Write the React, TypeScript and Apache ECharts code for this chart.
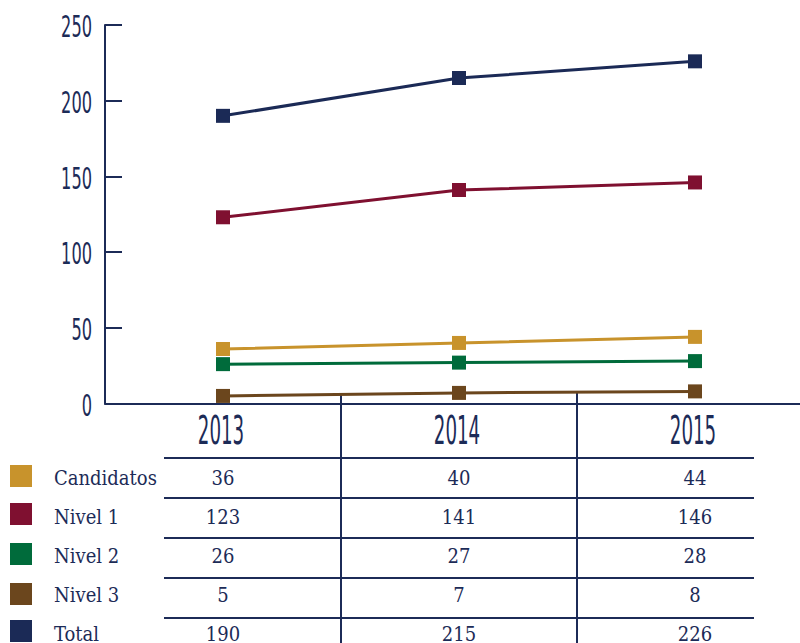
import React, { useEffect, useRef } from "react";
import * as echarts from "echarts";

const years = ["2013", "2014", "2015"];
const yTicks = [0, 50, 100, 150, 200, 250];
const seriesNames = ["Candidatos", "Nivel 1", "Nivel 2", "Nivel 3", "Total"];
const candidatos = [36, 40, 44];
const nivel1 = [123, 141, 146];
const nivel2 = [26, 27, 28];
const nivel3 = [5, 7, 8];
const total = [190, 215, 226];
const seriesColors = ["#c8932c", "#7f1030", "#006b3b", "#6b461d", "#1b2a56"];

const NAVY = "#1c2b57";
const NARROW = '"Liberation Sans Narrow", "DejaVu Sans Condensed", sans-serif';
const SERIF = '"DejaVu Serif Condensed", "DejaVu Serif", serif';

export default function App() {
  const ref = useRef<HTMLDivElement>(null);
  useEffect(() => {
    if (!ref.current) return;
    const chart = echarts.init(ref.current, null, { renderer: "svg" });
    const allData = [candidatos, nivel1, nivel2, nivel3, total];
    chart.setOption({
      animation: false,
      backgroundColor: "#ffffff",
      grid: { left: 105, top: 25, right: -13, height: 378.5, containLabel: false, outerBoundsMode: "none" },
      xAxis: {
        type: "category",
        data: years,
        boundaryGap: true,
        axisLine: { show: true, lineStyle: { color: NAVY, width: 2 } },
        axisTick: { show: false },
        axisLabel: { show: false },
        splitLine: { show: false },
      },
      yAxis: {
        type: "value",
        min: 0,
        max: 250,
        interval: 50,
        axisLine: { show: true, lineStyle: { color: NAVY, width: 2 } },
        axisTick: { show: true, inside: true, length: 17, lineStyle: { color: NAVY, width: 2 } },
        axisLabel: { show: false },
        splitLine: { show: false },
      },
      series: seriesNames.map((name, i) => ({
        name,
        type: "line",
        data: allData[i],
        symbol: "rect",
        symbolSize: 14,
        showSymbol: true,
        color: seriesColors[i],
        lineStyle: { width: 3, color: seriesColors[i] },
        itemStyle: { color: seriesColors[i] },
        z: 2 + i,
      })),
    });

    const xs = years.map((_, j) => chart.convertToPixel({ xAxisIndex: 0 }, j) as number);
    const graphics: any[] = [];
    yTicks.forEach((v) => {
      const y = chart.convertToPixel({ yAxisIndex: 0 }, v) as number;
      graphics.push({
        type: "text",
        x: 92,
        y: y + 2,
        scaleX: 0.6,
        style: { text: String(v), font: `30px ${NARROW}`, fill: NAVY, textAlign: "right", textVerticalAlign: "middle" },
      });
    });
    years.forEach((yr, j) => {
      graphics.push({
        type: "text",
        x: xs[j] - 2,
        y: 430,
        scaleX: 0.52,
        style: { text: yr, font: `39px ${NARROW}`, fill: NAVY, textAlign: "center", textVerticalAlign: "middle" },
      });
    });
    for (let j = 0; j < xs.length - 1; j++) {
      const xm = (xs[j] + xs[j + 1]) / 2;
      graphics.push({
        type: "line",
        shape: { x1: xm, y1: 393, x2: xm, y2: 643 },
        style: { stroke: NAVY, lineWidth: 2 },
      });
    }
    [458, 498, 538, 578, 618].forEach((y) => {
      graphics.push({
        type: "line",
        shape: { x1: 164, y1: y, x2: 754, y2: y },
        style: { stroke: NAVY, lineWidth: 2 },
      });
    });
    const rowY = [478, 517, 556, 595, 634];
    const legendBoxY = [465, 503, 543, 583, 620];
    seriesNames.forEach((name, i) => {
      graphics.push({
        type: "rect",
        shape: { x: 10, y: legendBoxY[i], width: 22, height: 22 },
        style: { fill: seriesColors[i] },
      });
      graphics.push({
        type: "text",
        x: 54,
        y: rowY[i],
        style: { text: name, font: `20px ${SERIF}`, fill: NAVY, textAlign: "left", textVerticalAlign: "middle" },
      });
    });
    allData.forEach((arr, i) => {
      arr.forEach((v, j) => {
        graphics.push({
          type: "text",
          x: xs[j],
          y: rowY[i],
          style: { text: String(v), font: `20px ${SERIF}`, fill: NAVY, textAlign: "center", textVerticalAlign: "middle" },
        });
      });
    });
    chart.setOption({ graphic: graphics });
    return () => chart.dispose();
  }, []);
  return <div ref={ref} style={{ position: "fixed", left: 0, top: 0, width: 800, height: 643 }} />;
}
